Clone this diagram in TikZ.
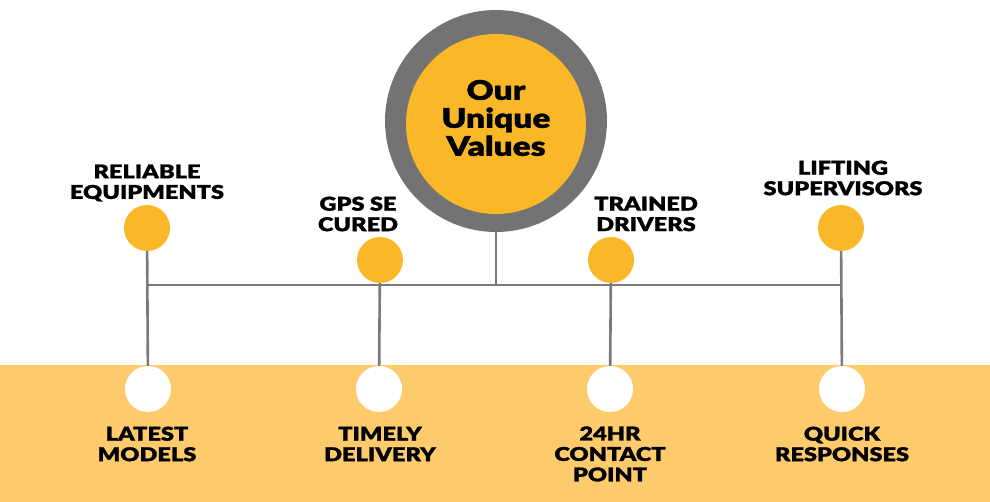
\documentclass[tikz,border=0pt]{standalone}
\usepackage{fontspec}
\setmainfont{Lato}[BoldFont={Lato Black},BoldFeatures={FakeStretch=1.24,FakeBold=1.2}]
\definecolor{ringgray}{HTML}{737373}
\definecolor{linegray}{HTML}{7A7A7A}
\definecolor{dotyellow}{HTML}{FAB829}
\definecolor{bandyellow}{HTML}{FECB6C}
\begin{document}
\begin{tikzpicture}[x=1pt,y=-1pt,
  conn/.style={draw=linegray,line width=2.6pt},
  topdot/.style={circle,fill=dotyellow,minimum size=46pt,inner sep=0pt},
  botdot/.style={circle,fill=white,minimum size=46pt,inner sep=0pt},
  lbl/.style={align=center,font=\bfseries\fontsize{19}{20.5}\selectfont,inner sep=0pt}]
\useasboundingbox (0,0) rectangle (990,502);
\fill[bandyellow] (0,365) rectangle (990,502);
% centre
\node[circle,fill=ringgray,minimum size=222pt,inner sep=0pt] (ring) at (496,121) {};
\node[circle,fill=dotyellow,minimum size=180pt,inner sep=0pt] (core) at (496,124) {};
\node[align=center,font=\bfseries\fontsize{27}{28}\selectfont,inner sep=0pt] (title) at (496,118) {Our\\Unique\\Values};
% connector hub
\coordinate (hub) at (496,285);
\coordinate (hl) at (147,285);
\coordinate (hr) at (841,285);
\draw[conn] (ring.south) -- (hub);
\draw[conn] (hl) -- (hr);
% top dots
\node[topdot] (t1) at (147,228) {};
\node[topdot] (t2) at (380,260) {};
\node[topdot] (t3) at (611,260) {};
\node[topdot] (t4) at (841,228) {};
% bottom dots
\node[botdot] (b1) at (148,389) {};
\node[botdot] (b2) at (379,389) {};
\node[botdot] (b3) at (610,389) {};
\node[botdot] (b4) at (842,389) {};
% verticals
\draw[conn] (t1) -- (b1);
\draw[conn] (t2) -- (b2);
\draw[conn] (t3) -- (b3);
\draw[conn] (t4) -- (b4);
% labels
\node[lbl] (l1) at (147,183) {RELIABLE\\EQUIPMENTS};
\node[lbl] (l2) at (358,214) {GPS SE\\CURED};
\node[lbl] (l3) at (646,214) {TRAINED\\DRIVERS};
\node[lbl] (l4) at (843,178) {LIFTING\\SUPERVISORS};
\node[lbl] (l5) at (147,444) {LATEST\\MODELS};
\node[lbl] (l6) at (380,444) {TIMELY\\DELIVERY};
\node[lbl] (l7) at (610,454) {24HR\\CONTACT\\POINT};
\node[lbl] (l8) at (842,444) {QUICK\\RESPONSES};
\end{tikzpicture}
\end{document}
